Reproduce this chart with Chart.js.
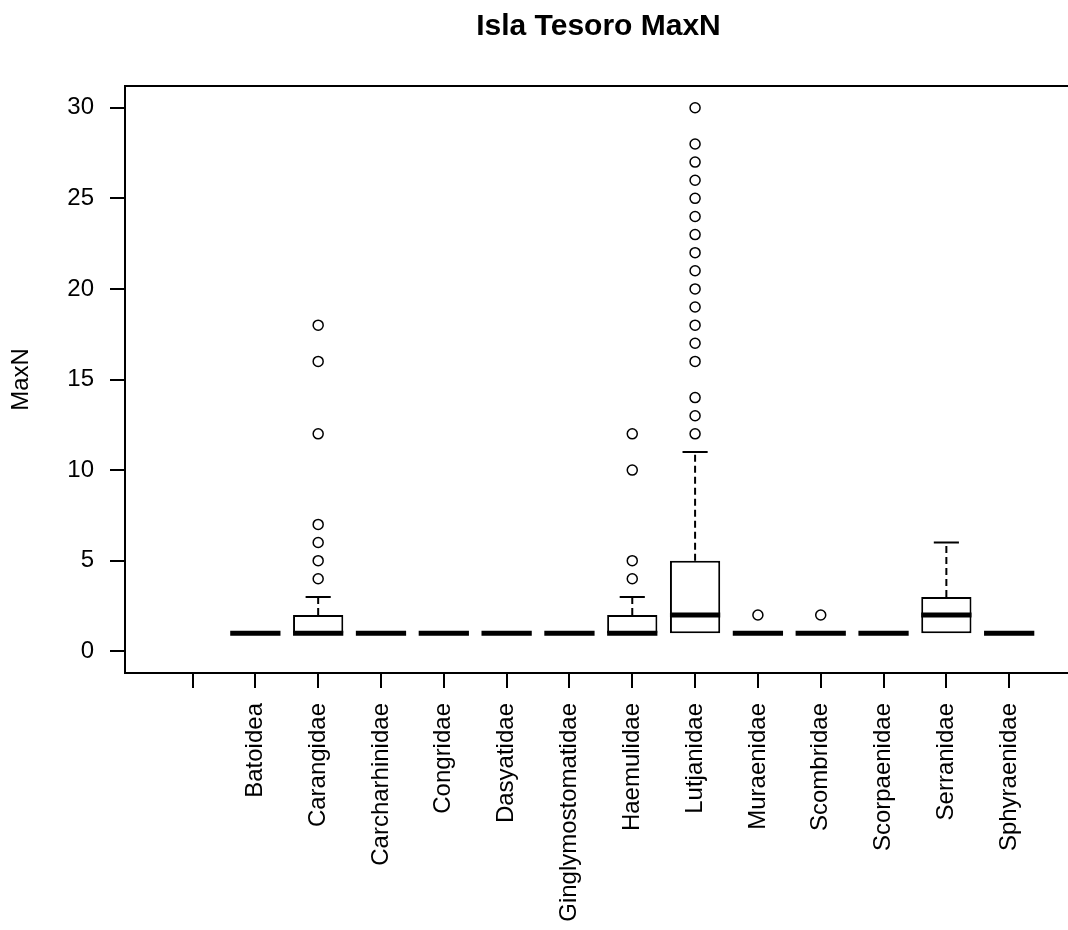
<!DOCTYPE html>
<html>
<head>
<meta charset="utf-8">
<title>Isla Tesoro MaxN</title>
<script src="https://cdn.jsdelivr.net/npm/chart.js@4.4.1/dist/chart.umd.min.js"></script>
<style>
  html, body { margin: 0; padding: 0; background: #fff; overflow: hidden; }
  #wrap { width: 1090px; height: 930px; }
</style>
</head>
<body>
<div id="wrap"><canvas id="boxChart" width="1090" height="930"></canvas></div>
<script>
// families (first level is empty in the source data)
const families = ['', 'Batoidea', 'Carangidae', 'Carcharhinidae', 'Congridae', 'Dasyatidae',
  'Ginglymostomatidae', 'Haemulidae', 'Lutjanidae', 'Muraenidae', 'Scombridae',
  'Scorpaenidae', 'Serranidae', 'Sphyraenidae'];

// box stats per family
const lowerWhisker = [null, 1, 1, 1, 1, 1, 1, 1, 1, 1, 1, 1, 1, 1];
const q1           = [null, 1, 1, 1, 1, 1, 1, 1, 1, 1, 1, 1, 1, 1];
const medians      = [null, 1, 1, 1, 1, 1, 1, 1, 2, 1, 1, 1, 2, 1];
const q3           = [null, 1, 2, 1, 1, 1, 1, 2, 5, 1, 1, 1, 3, 1];
const upperWhisker = [null, 1, 3, 1, 1, 1, 1, 3, 11, 1, 1, 1, 6, 1];

// outliers per family
const outliers = [
  [], [], [4, 5, 6, 7, 12, 16, 18], [], [], [], [],
  [4, 5, 10, 12],
  [12, 13, 14, 16, 17, 18, 19, 20, 21, 22, 23, 24, 25, 26, 27, 28, 30],
  [2], [2], [], [], []
];

const yTicks = [0, 5, 10, 15, 20, 25, 30];

const BOX_HALF = 0.4;    // boxwex 0.8
const STAPLE_HALF = 0.2;

// build the pieces
const boxData = [];
const medianPts = [];
const whiskerPts = [];
const staplePts = [];
const outlierPts = [];

families.forEach((f, i) => {
  if (medians[i] == null) return;
  boxData.push({ x: i, y: [q1[i], q3[i]] });
  medianPts.push({ x: i - BOX_HALF, y: medians[i] }, { x: i + BOX_HALF, y: medians[i] }, { x: i, y: null });
  if (upperWhisker[i] > q3[i]) {
    whiskerPts.push({ x: i, y: q3[i] }, { x: i, y: upperWhisker[i] }, { x: i, y: null });
    staplePts.push({ x: i - STAPLE_HALF, y: upperWhisker[i] }, { x: i + STAPLE_HALF, y: upperWhisker[i] }, { x: i, y: null });
  }
  if (lowerWhisker[i] < q1[i]) {
    whiskerPts.push({ x: i, y: q1[i] }, { x: i, y: lowerWhisker[i] }, { x: i, y: null });
    staplePts.push({ x: i - STAPLE_HALF, y: lowerWhisker[i] }, { x: i + STAPLE_HALF, y: lowerWhisker[i] }, { x: i, y: null });
  }
  outliers[i].forEach(v => outlierPts.push({ x: i, y: v }));
});

const segLine = (data, width, order, dash) => ({
  type: 'line',
  data: data,
  order: order,
  borderColor: '#000',
  borderWidth: width,
  borderDash: dash || [],
  borderCapStyle: 'butt',
  pointRadius: 0,
  fill: false,
  spanGaps: false,
  tension: 0
});

// R-style frame around the plot region
const framePlugin = {
  id: 'frame',
  afterDraw(chart) {
    const { ctx, chartArea: a } = chart;
    ctx.save();
    ctx.strokeStyle = '#000';
    ctx.lineWidth = 2;
    ctx.strokeRect(a.left, a.top, a.right - a.left, a.bottom - a.top);
    ctx.restore();
  }
};

new Chart(document.getElementById('boxChart'), {
  type: 'bar',
  data: {
    datasets: [
      {
        type: 'scatter',
        data: outlierPts,
        order: 0,
        pointStyle: 'circle',
        pointRadius: 5,
        pointBorderWidth: 1.5,
        pointBackgroundColor: '#fff',
        pointBorderColor: '#000'
      },
      segLine(medianPts, 5, 1),
      segLine(staplePts, 2, 2),
      segLine(whiskerPts, 2, 2, [7, 4]),
      {
        type: 'bar',
        data: boxData,
        order: 3,
        backgroundColor: '#fff',
        borderColor: '#000',
        borderWidth: 2,
        borderSkipped: false,
        barPercentage: 0.8,
        categoryPercentage: 1
      }
    ]
  },
  options: {
    responsive: false,
    animation: false,
    layout: { padding: { left: 0, right: 18, top: 0, bottom: 0 } },
    plugins: {
      legend: { display: false },
      tooltip: { enabled: false },
      title: {
        display: true,
        text: 'Isla Tesoro MaxN',
        fullSize: false,
        color: '#000',
        font: { family: 'Liberation Sans, Arial, sans-serif', size: 30, weight: 'bold', lineHeight: 1.2 },
        padding: { top: 9, bottom: 41 }
      }
    },
    scales: {
      x: {
        type: 'linear',
        offset: false,
        min: -1.075,
        max: 14.0,
        afterBuildTicks: s => { s.ticks = families.map((f, i) => ({ value: i })); },
        afterFit: s => { s.height = 257; },
        grid: { offset: false, drawOnChartArea: false, drawTicks: true, tickLength: 15, color: '#000', lineWidth: 2 },
        border: { display: true, color: '#000', width: 2 },
        ticks: {
          autoSkip: false,
          minRotation: 90,
          maxRotation: 90,
          padding: 15,
          color: '#000',
          font: { family: 'Liberation Sans, Arial, sans-serif', size: 24 },
          callback: v => families[v] ?? ''
        }
      },
      y: {
        type: 'linear',
        min: -1.2,
        max: 31.2,
        afterBuildTicks: s => { s.ticks = yTicks.map(v => ({ value: v })); },
        afterFit: s => { s.width = 125; },
        grid: { drawOnChartArea: false, drawTicks: true, tickLength: 15, color: '#000', lineWidth: 2 },
        border: { display: true, color: '#000', width: 2 },
        ticks: {
          padding: 16,
          color: '#000',
          font: { family: 'Liberation Sans, Arial, sans-serif', size: 24 }
        },
        title: {
          display: true,
          text: 'MaxN',
          color: '#000',
          font: { family: 'Liberation Sans, Arial, sans-serif', size: 24 },
          padding: { top: 7, bottom: 0 }
        }
      }
    }
  },
  plugins: [framePlugin]
});
</script>
</body>
</html>
